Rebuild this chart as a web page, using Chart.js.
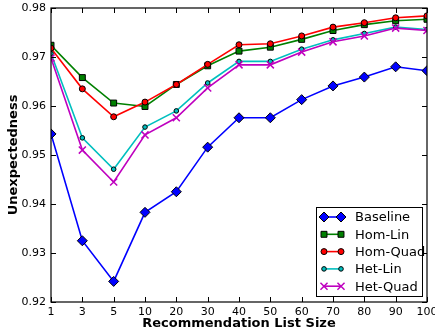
<!DOCTYPE html>
<html>
<head>
<meta charset="utf-8">
<script src="https://cdn.jsdelivr.net/npm/chart.js@4/dist/chart.umd.min.js"></script>
<style>
  html, body { margin: 0; padding: 0; background: #fff; }
  #wrap { width: 435px; height: 332px; }
</style>
</head>
<body>
<div id="wrap"><canvas id="myChart" width="435" height="332"></canvas></div>
<script>
var listSizes = ['1', '3', '5', '10', '20', '30', '40', '50', '60', '70', '80', '90', '100'];
var baseline = [0.9543, 0.9325, 0.9242, 0.9383, 0.9425, 0.9516, 0.9576, 0.9576, 0.9613, 0.9641, 0.9659, 0.9680, 0.9672];
var homLin   = [0.9724, 0.9658, 0.9606, 0.9599, 0.9644, 0.9682, 0.9712, 0.9720, 0.9736, 0.9754, 0.9766, 0.9774, 0.9777];
var homQuad  = [0.9718, 0.9635, 0.9578, 0.9608, 0.9644, 0.9685, 0.9725, 0.9727, 0.9743, 0.9761, 0.9770, 0.9780, 0.9784];
var hetLin   = [0.9707, 0.9535, 0.9471, 0.9557, 0.9590, 0.9647, 0.9691, 0.9691, 0.9716, 0.9735, 0.9748, 0.9761, 0.9756];
var hetQuad  = [0.9698, 0.9510, 0.9445, 0.9541, 0.9576, 0.9637, 0.9684, 0.9684, 0.9710, 0.9731, 0.9743, 0.9759, 0.9754];
var yTicks = [0.92, 0.93, 0.94, 0.95, 0.96, 0.97, 0.98];

var FONT = 'DejaVu Sans';

function series(label, data, color, style, radius, edge, order) {
    return {
        label: label,
        data: data,
        borderColor: color,
        backgroundColor: color,
        borderWidth: 1.6,
        pointStyle: style,
        pointRadius: radius,
        pointHoverRadius: radius,
        pointBackgroundColor: color,
        pointBorderColor: edge,
        pointBorderWidth: style === 'crossRot' ? 1.5 : 1,
        tension: 0,
        clip: 0,
        order: order
    };
}

// matplotlib-style inward ticks on all four sides + frame
var frame = {
    id: 'frame',
    afterDatasetsDraw: function (chart) {
        var c = chart.ctx, a = chart.chartArea;
        var xs = chart.scales.x, ys = chart.scales.y;
        c.save();
        c.strokeStyle = '#000';
        c.lineWidth = 1;
        c.beginPath();
        xs.ticks.forEach(function (t, i) {
            var x = Math.round(xs.getPixelForTick(i)) + 0.5;
            c.moveTo(x, a.bottom); c.lineTo(x, a.bottom - 5);
            c.moveTo(x, a.top); c.lineTo(x, a.top + 5);
        });
        ys.ticks.forEach(function (t, i) {
            var y = Math.round(ys.getPixelForTick(i)) + 0.5;
            c.moveTo(a.left, y); c.lineTo(a.left + 5, y);
            c.moveTo(a.right, y); c.lineTo(a.right - 5, y);
        });
        c.stroke();
        c.lineWidth = 1.2;
        c.strokeRect(a.left, a.top, a.right - a.left, a.bottom - a.top);
        c.restore();
    }
};

// legend box in lower right corner of the axes
var boxLegend = {
    id: 'boxLegend',
    afterDraw: function (chart) {
        var c = chart.ctx, a = chart.chartArea;
        var x0 = a.right - 111, y0 = a.bottom - 95, w = 106, h = 89;
        c.save();
        c.fillStyle = '#fff';
        c.fillRect(x0, y0, w, h);
        c.strokeStyle = '#000';
        c.lineWidth = 1;
        c.strokeRect(x0 + 0.5, y0 + 0.5, w, h);
        var sets = chart.data.datasets;
        c.font = '13px "' + FONT + '"';
        c.textBaseline = 'middle';
        for (var i = 0; i < sets.length; i++) {
            var d = sets[i];
            var y = y0 + 10 + i * 17.3;
            c.strokeStyle = d.borderColor;
            c.lineWidth = 1.6;
            c.beginPath(); c.moveTo(x0 + 8, y); c.lineTo(x0 + 25, y); c.stroke();
            [x0 + 8, x0 + 25].forEach(function (px) {
                c.fillStyle = d.pointBackgroundColor;
                c.strokeStyle = d.pointBorderColor;
                c.lineWidth = d.pointBorderWidth;
                Chart.helpers.drawPoint(c, { pointStyle: d.pointStyle, radius: d.pointRadius, rotation: 0, borderWidth: d.pointBorderWidth }, px, y);
            });
            c.fillStyle = '#000';
            c.fillText(d.label, x0 + 39, y + 1);
        }
        c.restore();
    }
};

var ctx = document.getElementById('myChart');
var myChart = new Chart(ctx, {
    type: 'line',
    data: {
        labels: listSizes,
        datasets: [
            series('Baseline', baseline, '#0000ff', 'rectRot', 5, '#000', 5),
            series('Hom-Lin', homLin, '#008000', 'rect', 4.2, '#000', 4),
            series('Hom-Quad', homQuad, '#ff0000', 'circle', 3, '#000', 3),
            series('Het-Lin', hetLin, '#00bfbf', 'circle', 2.3, '#000', 2),
            series('Het-Quad', hetQuad, '#bf00bf', 'crossRot', 5, '#bf00bf', 1)
        ]
    },
    plugins: [frame, boxLegend],
    options: {
        responsive: false,
        animation: false,
        events: [],
        layout: { padding: { top: 8, right: 8, left: 0, bottom: 0 } },
        scales: {
            x: {
                offset: false,
                grid: { display: false, drawTicks: false },
                border: { display: false },
                ticks: {
                    color: '#000',
                    font: { family: FONT, size: 11 },
                    padding: 4,
                    maxRotation: 0,
                    autoSkip: false
                },
                title: {
                    display: true,
                    text: 'Recommendation List Size',
                    color: '#000',
                    font: { family: FONT, size: 13, weight: 'bold' },
                    padding: { top: 0, bottom: 1 }
                },
                afterFit: function (s) { s.height = 30; s.paddingLeft = 0; s.paddingRight = 0; }
            },
            y: {
                min: 0.92,
                max: 0.98,
                grid: { display: false, drawTicks: false },
                border: { display: false },
                afterBuildTicks: function (s) { s.ticks = yTicks.map(function (v) { return { value: v }; }); },
                ticks: {
                    color: '#000',
                    font: { family: FONT, size: 11 },
                    padding: 5,
                    callback: function (v) { return v.toFixed(2); }
                },
                title: {
                    display: true,
                    text: 'Unexpectedness',
                    color: '#000',
                    font: { family: FONT, size: 13, weight: 'bold' },
                    padding: { top: 6, bottom: 0 }
                },
                afterFit: function (s) { s.width = 51; s.paddingTop = 0; s.paddingBottom = 0; }
            }
        },
        plugins: {
            legend: { display: false },
            tooltip: { enabled: false }
        }
    }
});
</script>
</body>
</html>
